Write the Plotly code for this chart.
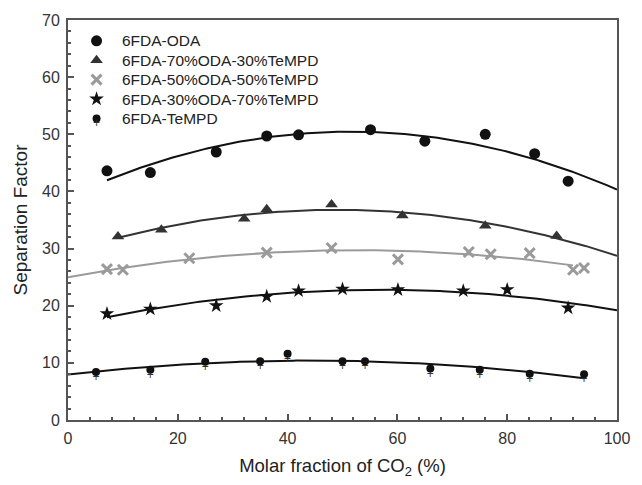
import numpy as np
import plotly.graph_objects as go

# ---------------- data ----------------
oda_x = [7.1, 15.0, 27.0, 36.2, 42.0, 55.1, 65.0, 76.0, 85.0, 91.1]
oda_y = [43.6, 43.3, 46.9, 49.7, 49.9, 50.8, 48.8, 50.0, 46.6, 41.8]

o70_x = [9.1, 17.0, 32.1, 36.2, 48.0, 60.9, 76.0, 89.0]
o70_y = [32.1, 33.3, 35.2, 36.9, 37.7, 35.8, 34.0, 32.2]

o50_x = [7.1, 10.0, 22.1, 36.2, 48.0, 60.1, 73.0, 77.0, 84.1, 92.0, 94.0]
o50_y = [26.4, 26.3, 28.3, 29.3, 30.1, 28.1, 29.4, 29.0, 29.2, 26.3, 26.6]

o30_x = [7.1, 15.0, 27.0, 36.2, 42.0, 50.0, 60.1, 72.0, 80.0, 91.1]
o30_y = [18.6, 19.4, 20.0, 21.6, 22.6, 22.9, 22.8, 22.6, 22.8, 19.6]

te_x = [5.1, 15.0, 25.0, 35.0, 40.0, 50.0, 54.1, 66.0, 75.0, 84.1, 94.0]
te_y = [8.4, 8.8, 10.2, 10.3, 11.6, 10.3, 10.3, 9.0, 8.8, 8.1, 8.0]

names = ["6FDA-ODA", "6FDA-70%ODA-30%TeMPD", "6FDA-50%ODA-50%TeMPD",
         "6FDA-30%ODA-70%TeMPD", "6FDA-TeMPD"]
fit_ranges = [(7.1, 100), (9.1, 100), (0, 92), (7.1, 100), (0, 94)]

x_ticks = [0, 20, 40, 60, 80, 100]
y_ticks = [0, 10, 20, 30, 40, 50, 60, 70]

# ---------------- styles ----------------
BLACK = "#111111"
DARK = "#333333"
GRAY = "#9a9a9a"
AXC = "#555555"
FONT = "Liberation Sans, Arial, sans-serif"

markers = [
    dict(symbol="circle", size=11, color=BLACK),
    dict(symbol="triangle-up", size=11, color=DARK),
    dict(symbol="x-thin-open", size=10, color=GRAY, line=dict(color=GRAY, width=3)),
    dict(symbol="star", size=11, color=BLACK),
    dict(symbol="circle", size=8, color=BLACK),
]
line_colors = [BLACK, DARK, GRAY, BLACK, BLACK]
xs_all = [oda_x, o70_x, o50_x, o30_x, te_x]
ys_all = [oda_y, o70_y, o50_y, o30_y, te_y]

fig = go.Figure()

# quadratic fit curves
for xs, ys, lc, (a, b) in zip(xs_all, ys_all, line_colors, fit_ranges):
    coef = np.polyfit(xs, ys, 2)
    xx = np.linspace(a, b, 200)
    fig.add_trace(go.Scatter(x=xx, y=np.polyval(coef, xx), mode="lines",
                             line=dict(color=lc, width=2), showlegend=False,
                             hoverinfo="skip"))

# cross part of the TeMPD glyph
fig.add_trace(go.Scatter(x=te_x, y=te_y, mode="text", text=["+"] * len(te_x),
                         textposition="bottom center",
                         textfont=dict(size=12, color=DARK, family=FONT),
                         showlegend=False, hoverinfo="skip"))

for xs, ys, mk, nm in zip(xs_all, ys_all, markers, names):
    fig.add_trace(go.Scatter(x=xs, y=ys, mode="markers", name=nm, marker=mk,
                             showlegend=False))

# ---------------- legend (drawn on an overlay 0..1 axis) ----------------
leg_sym_x = 0.052
leg_txt_x = 0.095
leg_top = 0.948
leg_step = 0.0485
rows = [leg_top - i * leg_step for i in range(len(names))]
for i, (mk, nm) in enumerate(zip(markers, names)):
    fig.add_trace(go.Scatter(x=[leg_sym_x], y=[rows[i]], mode="markers",
                             marker=mk, xaxis="x2", yaxis="y2",
                             showlegend=False, hoverinfo="skip"))
    fig.add_annotation(x=leg_txt_x, y=rows[i], xref="paper", yref="paper",
                       text=nm, showarrow=False, xanchor="left", yanchor="middle",
                       font=dict(size=15.5, color="#222222", family=FONT))
fig.add_trace(go.Scatter(x=[leg_sym_x], y=[rows[-1]], mode="text", text=["+"],
                         textposition="bottom center", xaxis="x2", yaxis="y2",
                         textfont=dict(size=12, color=DARK, family=FONT),
                         showlegend=False, hoverinfo="skip"))

axis_common = dict(
    showline=True, linecolor=AXC, linewidth=2, mirror=True,
    ticks="inside", ticklen=6, tickwidth=1.5, tickcolor=AXC,
    showgrid=False, zeroline=False,
    tickfont=dict(size=16, color="#333333", family=FONT),
)

fig.update_layout(
    xaxis=dict(range=[0, 100], tickvals=x_ticks, ticklabelstandoff=3,
               minor=dict(dtick=4, ticks="inside", ticklen=3, tickcolor=AXC),
               title=dict(text="Molar fraction of CO<sub>2</sub> (%)",
                          font=dict(size=18.5, color="#222222", family=FONT),
                          standoff=13),
               **axis_common),
    yaxis=dict(range=[0, 70], tickvals=y_ticks, ticklabelstandoff=3,
               minor=dict(dtick=2, ticks="inside", ticklen=3, tickcolor=AXC),
               title=dict(text="Separation Factor",
                          font=dict(size=19, color="#222222", family=FONT),
                          standoff=9),
               **axis_common),
    xaxis2=dict(range=[0, 1], overlaying="x", anchor="y2", visible=False),
    yaxis2=dict(range=[0, 1], overlaying="y", anchor="x2", visible=False),
    width=642, height=485,
    margin=dict(l=68, r=16, t=19, b=64),
    paper_bgcolor="white", plot_bgcolor="white",
    font=dict(family=FONT, color="#222222"),
    showlegend=False,
)

fig.write_html("out.html")
